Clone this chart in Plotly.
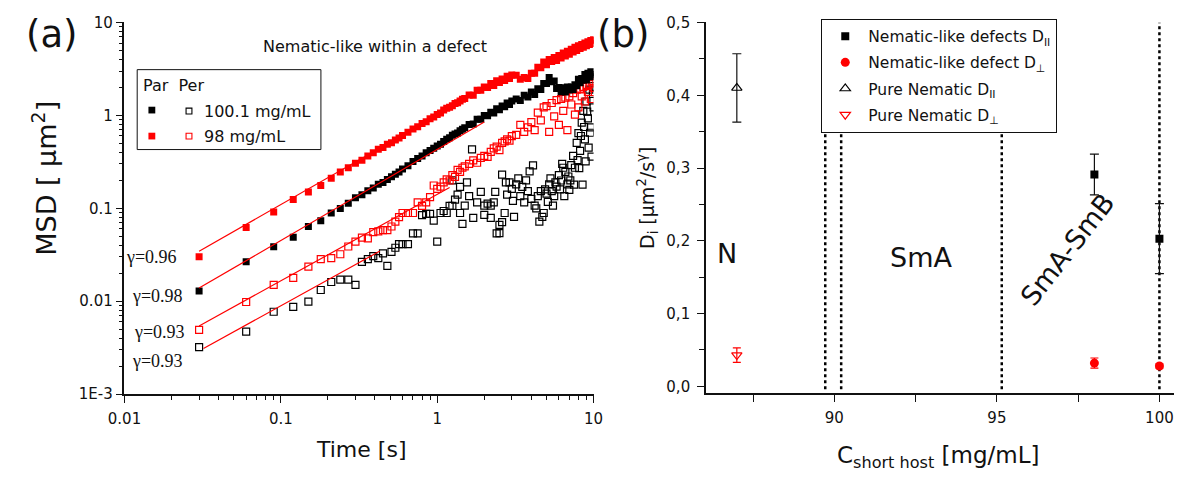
import plotly.graph_objects as go

W, H = 1186, 483

SANS = "DejaVu Sans, Verdana, sans-serif"
SERIF = "Liberation Serif, Times New Roman, serif"
INK = "#111111"
RED = "#ff0000"


def px(x):
    return x / W


def py(y):
    return 1 - y / H


# ---------------- (a) MSD versus lag time ----------------
TIME_S = [0.03, 0.06, 0.09, 0.12, 0.15, 0.18, 0.21, 0.24, 0.27, 0.30,
          0.33, 0.36, 0.39, 0.42, 0.45, 0.48, 0.51, 0.54, 0.57, 0.60,
          0.65, 0.70, 0.75, 0.80, 0.85, 0.90, 0.95, 1.00, 1.05, 1.10,
          1.15, 1.20, 1.25, 1.30, 1.35, 1.40, 1.45, 1.50,
          1.6, 1.7, 1.8, 1.9, 2.0, 2.1, 2.2, 2.3, 2.4, 2.5, 2.6, 2.7, 2.8, 2.9, 3.0,
          3.2, 3.4, 3.6, 3.8, 4.0, 4.2, 4.4, 4.6, 4.8, 5.0, 5.2, 5.4, 5.6, 5.8,
          6.0, 6.2, 6.4, 6.6, 6.8, 7.0, 7.2, 7.4, 7.6, 7.8, 8.0, 8.2, 8.4, 8.6,
          8.8, 9.0, 9.2, 9.4, 9.6, 9.8, 10.0]

# parallel component, 98 mg/mL (red filled)
MSD_PAR_98 = [0.030, 0.062, 0.091, 0.124, 0.150, 0.176, 0.210, 0.246, 0.273, 0.305,
              0.328, 0.366, 0.396, 0.432, 0.451, 0.488, 0.506, 0.543, 0.570, 0.607,
              0.657, 0.712, 0.753, 0.818, 0.856, 0.921, 0.958, 1.02, 1.06, 1.14,
              1.19, 1.22, 1.27, 1.34, 1.37, 1.43, 1.49, 1.52,
              1.66, 1.65, 1.86, 1.86, 2.02, 2.00, 2.20, 2.10, 2.36, 2.26, 2.46, 2.38, 2.64, 2.50, 2.72,
              2.70, 2.45, 2.55, 2.50, 2.85, 2.85, 3.30, 3.25, 3.75, 3.50, 4.00, 3.80, 4.20, 3.90,
              4.40, 4.15, 4.70, 4.35, 4.90, 4.55, 5.15, 4.80, 5.40, 5.00, 5.60, 5.25, 5.80, 5.40,
              6.00, 5.60, 6.20, 5.80, 6.40, 5.95, 6.50]

# parallel component, 100.1 mg/mL (black filled)
MSD_PAR_100 = [0.0129, 0.0265, 0.0385, 0.0489, 0.0635, 0.0735, 0.089, 0.0997, 0.113, 0.130,
               0.140, 0.154, 0.165, 0.181, 0.190, 0.204, 0.218, 0.232, 0.246, 0.264,
               0.287, 0.319, 0.343, 0.366, 0.396, 0.419, 0.442, 0.469, 0.488, 0.524,
               0.552, 0.574, 0.611, 0.629, 0.648, 0.685, 0.707, 0.735,
               0.80, 0.81, 0.91, 0.91, 1.00, 0.99, 1.08, 1.06, 1.18, 1.15, 1.26, 1.24, 1.36, 1.31, 1.43,
               1.50, 1.45, 1.65, 1.58, 1.78, 1.68, 1.94, 1.90, 2.20, 2.20, 2.55, 2.30, 2.35, 1.95,
               2.00, 1.80, 1.98, 1.78, 2.02, 1.88, 2.02, 1.90, 2.14, 2.08, 2.45, 2.25, 2.50, 2.40,
               2.75, 2.40, 2.85, 2.70, 2.95, 2.60, 2.75]

# perpendicular component, 98 mg/mL (red open)
MSD_PER_98 = [0.0049, 0.0098, 0.0150, 0.0178, 0.0235, 0.0284, 0.0291, 0.0320, 0.0388, 0.0438,
              0.0484, 0.0475, 0.0554, 0.0563, 0.0581, 0.0581, 0.0637, 0.0717, 0.0805, 0.089,
              0.089, 0.089, 0.116, 0.106, 0.116, 0.132, 0.176, 0.162, 0.171, 0.190,
              0.205, 0.199, 0.228, 0.218, 0.259, 0.246, 0.273, 0.282,
              0.300, 0.328, 0.309, 0.348, 0.366, 0.357, 0.405, 0.442, 0.460, 0.423, 0.506, 0.524, 0.552, 0.534, 0.598,
              0.616, 0.79, 0.666, 0.744, 0.846, 0.694, 1.07, 0.884, 1.22, 1.26, 0.666, 1.36, 0.977, 1.46,
              0.79, 1.50, 1.12, 1.55, 0.694, 1.60, 1.31, 1.74, 1.02, 1.89, 1.22, 1.94, 1.60, 2.03,
              1.41, 2.08, 1.79, 2.17, 1.50, 2.27, 1.98]

# perpendicular component, 100.1 mg/mL (black open)
MSD_PER_100 = [0.0032, 0.0047, 0.0077, 0.0087, 0.0099, 0.0132, 0.0161, 0.0171, 0.0171, 0.0150,
               0.0265, 0.0284, 0.0305, 0.0291, 0.0327, 0.0240, 0.0339, 0.0376, 0.0411, 0.0411,
               0.0411, 0.0537, 0.0537, 0.0846, 0.0872, 0.0872, 0.0735, 0.0438, 0.089, 0.0935,
               0.089, 0.106, 0.106, 0.124, 0.140, 0.089, 0.068, 0.107,
               0.135, 0.079, 0.116, 0.150, 0.107, 0.112, 0.107, 0.116, 0.0537, 0.0664, 0.0708, 0.089, 0.140, 0.190, 0.162,
               0.181, 0.135, 0.116, 0.153, 0.126, 0.107, 0.135, 0.153, 0.089, 0.144, 0.181, 0.153, 0.135, 0.171,
               0.228, 0.199, 0.273, 0.246, 0.181, 0.158, 0.291, 0.366, 0.273, 0.506, 0.644, 0.414, 0.837, 1.12,
               0.552, 1.41, 0.93, 1.89, 0.744, 2.46, 1.22]
MSD_PER_100_EXTRA_T = [1.25, 1.4, 1.55, 1.67, 2.0, 2.2, 2.35, 2.5, 2.6, 2.75, 3.05, 3.1, 3.3, 3.5,
                       3.7, 3.9, 4.1, 4.3, 4.5, 4.7, 4.9, 5.1, 5.3, 5.5, 5.7, 6.1, 6.3, 6.5, 6.9,
                       7.1, 7.5, 7.9, 8.1, 8.3, 8.5, 8.7, 8.9, 9.1, 9.3, 9.5, 9.7, 9.9]
MSD_PER_100_EXTRA = [0.20, 0.17, 0.19, 0.43, 0.085, 0.079, 0.15, 0.054, 0.23, 0.19, 0.12, 0.081, 0.21, 0.17,
                     0.20, 0.25, 0.29, 0.10, 0.072, 0.081, 0.16, 0.117, 0.21, 0.107, 0.19, 0.16, 0.30, 0.135, 0.22,
                     0.20, 0.18, 0.33, 0.27, 0.60, 0.18, 0.75, 0.32, 1.1, 0.45, 0.65, 0.36, 1.7]

# power-law fits MSD = A * t^gamma  (order: par 98, par 100.1, per 98, per 100.1)
FIT_GAMMA = [0.96, 0.98, 0.93, 0.93]
FIT_PREFACTOR = [1.0, 0.43, 0.141, 0.0759]
FIT_T_START = [0.03, 0.03, 0.03, 0.032]
FIT_T_END = [2.0, 2.0, 1.2, 0.43]

# ---------------- (b) diffusion coefficients ----------------
C_DEFECT = [98.0, 100.0]
D_PAR_DEFECT = [0.291, 0.203]
D_PAR_DEFECT_ERR = [0.028, 0.048]
D_PERP_DEFECT = [0.032, 0.028]
D_PERP_DEFECT_ERR = [0.007, 0.003]
C_PURE = [87.0]
D_PAR_PURE = [0.41]
D_PAR_PURE_ERR = [0.047]
D_PERP_PURE = [0.043]
D_PERP_PURE_ERR = [0.010]
PHASE_BOUNDARIES = [89.72, 90.21, 95.15, 100.0]

D_TICKS = [0.0, 0.1, 0.2, 0.3, 0.4, 0.5]
D_TICK_TEXT = ["0,0", "0,1", "0,2", "0,3", "0,4", "0,5"]

fig = go.Figure()

sq = dict(size=7)
fig.add_trace(go.Scatter(
    x=TIME_S + MSD_PER_100_EXTRA_T, y=MSD_PER_100 + MSD_PER_100_EXTRA, mode="markers",
    marker=dict(symbol="square-open", color="black", line=dict(width=1.2), **sq),
    xaxis="x", yaxis="y", showlegend=False, hoverinfo="skip"))
fig.add_trace(go.Scatter(
    x=TIME_S, y=MSD_PER_98, mode="markers",
    marker=dict(symbol="square-open", color=RED, line=dict(width=1.2), **sq),
    xaxis="x", yaxis="y", showlegend=False, hoverinfo="skip"))
fig.add_trace(go.Scatter(
    x=TIME_S, y=MSD_PAR_100, mode="markers",
    marker=dict(symbol="square", color="black", **sq),
    xaxis="x", yaxis="y", showlegend=False, hoverinfo="skip"))
fig.add_trace(go.Scatter(
    x=TIME_S, y=MSD_PAR_98, mode="markers",
    marker=dict(symbol="square", color=RED, **sq),
    xaxis="x", yaxis="y", showlegend=False, hoverinfo="skip"))

for g, a, t0, t1 in zip(FIT_GAMMA, FIT_PREFACTOR, FIT_T_START, FIT_T_END):
    fig.add_trace(go.Scatter(
        x=[t0, t1], y=[a * t0 ** g, a * t1 ** g], mode="lines",
        line=dict(color=RED, width=1.2), xaxis="x", yaxis="y",
        showlegend=False, hoverinfo="skip"))

# panel (b)
fig.add_trace(go.Scatter(
    x=C_DEFECT, y=D_PAR_DEFECT, mode="markers", name="Nematic-like defects D<sub>II</sub>",
    marker=dict(symbol="square", size=8, color="black"),
    error_y=dict(type="data", array=D_PAR_DEFECT_ERR, color=INK, thickness=1.2, width=4.5),
    xaxis="x2", yaxis="y2", legendgroup="g1", hoverinfo="skip"))
fig.add_trace(go.Scatter(
    x=C_DEFECT, y=D_PERP_DEFECT, mode="markers", name="Nematic-like defect D<sub>⊥</sub>",
    marker=dict(symbol="circle", size=9, color=RED),
    error_y=dict(type="data", array=D_PERP_DEFECT_ERR, color=RED, thickness=1.2, width=4),
    xaxis="x2", yaxis="y2", legendgroup="g2", hoverinfo="skip"))
fig.add_trace(go.Scatter(
    x=C_PURE, y=D_PAR_PURE, mode="markers", name="Pure Nematic D<sub>II</sub>",
    marker=dict(symbol="triangle-up-open", size=9, color="black", line=dict(width=1.2)),
    error_y=dict(type="data", array=D_PAR_PURE_ERR, color=INK, thickness=1.2, width=4.5),
    xaxis="x2", yaxis="y2", legendgroup="g3", hoverinfo="skip"))
fig.add_trace(go.Scatter(
    x=C_PURE, y=D_PERP_PURE, mode="markers", name="Pure Nematic D<sub>⊥</sub>",
    marker=dict(symbol="triangle-down-open", size=9, color=RED, line=dict(width=1.2)),
    error_y=dict(type="data", array=D_PERP_PURE_ERR, color=RED, thickness=1.2, width=4),
    xaxis="x2", yaxis="y2", legendgroup="g4", hoverinfo="skip"))

shapes = []
for c in PHASE_BOUNDARIES:
    shapes.append(dict(type="line", xref="x2", yref="y2", x0=c, x1=c, y0=-0.004, y1=0.5,
                       line=dict(color="black", width=2.5, dash="dot"), layer="below"))

# legend of panel (a): box, two columns of markers
shapes.append(dict(type="rect", xref="paper", yref="paper",
                   x0=px(123), x1=px(311), y0=py(146), y1=py(63),
                   line=dict(color=INK, width=1), fillcolor="white", layer="above"))
for cx, cy, col, filled in [(138, 105, "black", True), (176, 106, "black", False),
                            (138, 132, RED, True), (176, 132, RED, False)]:
    half = 3.5 if filled else 3.0
    shapes.append(dict(type="rect", xref="paper", yref="paper",
                       x0=px(cx - half), x1=px(cx + half), y0=py(cy + half), y1=py(cy - half),
                       line=dict(color=col, width=0 if filled else 1.1),
                       fillcolor=col if filled else "white", layer="above"))

annotations = []


def note(x, y, text, size, family=SANS, angle=0, xanchor="center", color=INK):
    annotations.append(dict(x=px(x), y=py(y), xref="paper", yref="paper", text=text,
                            showarrow=False, textangle=angle, xanchor=xanchor, yanchor="middle",
                            font=dict(family=family, size=size, color=color)))


note(36, 26, "(a)", 37)
note(620, 26, "(b)", 37)
note(366, 39, "Nematic-like within a defect", 16)
note(127, 79, "Par  Per", 16, xanchor="left")
note(189, 106, "100.1 mg/mL", 16, xanchor="left")
note(189, 132, "98 mg/mL", 16, xanchor="left")
for g, (gx, gy) in zip(FIT_GAMMA, [(138, 258), (144, 298), (146, 336), (144, 366)]):
    note(gx, gy, f"γ={g:.2f}", 18, family=SERIF)

note(28, 176, "MSD [ μm<sup>2</sup>]", 27, angle=-90)
note(352, 458, "Time [s]", 22)
note(645, 196, "D<sub>i</sub> [μm<sup>2</sup>/s<sup>γ</sup>]", 19, angle=-90)
note(943, 465, "C<sub>short host</sub> [mg/mL]", 23)
note(727, 254, "N", 27)
note(925, 258, "SmA", 27)
note(1075, 250, "SmA-SmB", 27, angle=-52)

tickfont = dict(family=SANS, size=15, color=INK)
line_style = dict(showline=True, linecolor=INK, linewidth=1.5, showgrid=False, zeroline=False,
                  tickcolor=INK, tickwidth=1.3)


def log_minor(lo, hi):
    return [m * 10.0 ** e for e in range(lo, hi) for m in range(2, 10)]


xa_dom = [px(110), px(590)]
ya_dom = [py(400), py(14)]
xb_dom = [px(705), px(1184)]
yb_dom = [py(399), py(14)]

T_TICKS = [0.01, 0.1, 1, 10]
T_TICK_TEXT = ["0.01", "0.1", "1", "10"]
M_TICKS = [0.001, 0.01, 0.1, 1, 10]
M_TICK_TEXT = ["1E-3", "0.01", "0.1", "1", "10"]

fig.update_layout(
    width=W, height=H, margin=dict(l=0, r=0, t=0, b=0),
    paper_bgcolor="white", plot_bgcolor="white",
    shapes=shapes, annotations=annotations,
    legend=dict(x=px(823), y=py(10), xanchor="left", yanchor="top", bgcolor="white",
                bordercolor=INK, borderwidth=1, tracegroupgap=3, itemwidth=36,
                font=dict(family=SANS, size=15.5, color=INK)),
    xaxis=dict(type="log", domain=xa_dom, range=[-2, 1], anchor="y",
               ticks="outside", ticklen=7, tickvals=T_TICKS, ticktext=T_TICK_TEXT,
               ticklabelstandoff=3, tickfont=tickfont,
               minor=dict(tickvals=log_minor(-2, 1), ticks="outside", ticklen=4,
                          tickcolor=INK, tickwidth=1), **line_style),
    yaxis=dict(type="log", domain=ya_dom, range=[-3, 1], anchor="x",
               ticks="outside", ticklen=7, tickvals=M_TICKS, ticktext=M_TICK_TEXT,
               tickfont=tickfont,
               minor=dict(tickvals=log_minor(-3, 1), ticks="outside", ticklen=4,
                          tickcolor=INK, tickwidth=1), **line_style),
    xaxis3=dict(type="log", overlaying="x", side="top", anchor="y", range=[-2, 1],
                ticks="inside", ticklen=7, tickvals=T_TICKS, showticklabels=False,
                minor=dict(tickvals=log_minor(-2, 1), ticks="inside", ticklen=4,
                           tickcolor=INK, tickwidth=1), **line_style),
    yaxis3=dict(type="log", overlaying="y", side="right", anchor="x", range=[-3, 1],
                ticks="inside", ticklen=7, tickvals=M_TICKS, showticklabels=False,
                minor=dict(tickvals=log_minor(-3, 1), ticks="inside", ticklen=4,
                           tickcolor=INK, tickwidth=1), **line_style),
    xaxis2=dict(domain=xb_dom, range=[86.05, 100.45], anchor="y2",
                ticks="outside", ticklen=7, tickvals=[90, 95, 100], ticktext=["90", "95", "100"],
                ticklabelstandoff=3, tickfont=tickfont,
                minor=dict(tickvals=[87.5, 92.5, 97.5], ticks="outside", ticklen=7,
                           tickcolor=INK, tickwidth=1.3), **line_style),
    yaxis2=dict(domain=yb_dom, range=[-0.0093, 0.5], anchor="x2",
                ticks="outside", ticklen=7, tickvals=D_TICKS, ticktext=D_TICK_TEXT,
                ticklabelstandoff=4, tickfont=tickfont,
                minor=dict(tickvals=[0.05, 0.15, 0.25, 0.35, 0.45], ticks="outside", ticklen=5,
                           tickcolor=INK, tickwidth=1), **line_style),
    xaxis4=dict(overlaying="x2", side="top", anchor="y2", range=[86.05, 100.45],
                ticks="inside", ticklen=7, tickvals=[90, 95, 100], showticklabels=False,
                minor=dict(tickvals=[87.5, 92.5, 97.5], ticks="inside", ticklen=7,
                           tickcolor=INK, tickwidth=1.3), **line_style),
    yaxis4=dict(overlaying="y2", side="right", anchor="x2", range=[-0.0093, 0.5],
                ticks="inside", ticklen=7, tickvals=D_TICKS, showticklabels=False,
                minor=dict(tickvals=[0.05, 0.15, 0.25, 0.35, 0.45], ticks="inside", ticklen=5,
                           tickcolor=INK, tickwidth=1), **line_style),
)

fig.write_html("out.html")
